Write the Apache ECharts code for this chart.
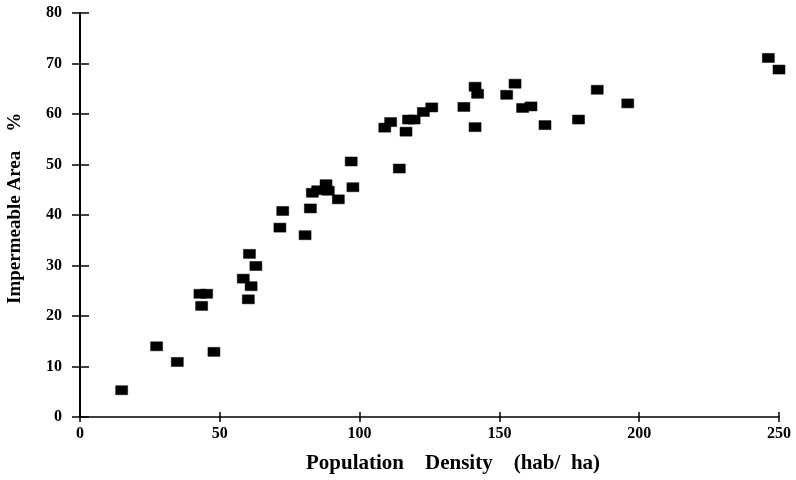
<!DOCTYPE html>
<html>
<head>
<meta charset="utf-8">
<script src="https://cdn.jsdelivr.net/npm/echarts@6/dist/echarts.min.js"></script>
<style>html,body{margin:0;padding:0;background:#fff;}#c{width:796px;height:480px;}</style>
</head>
<body>
<div id="c"></div>
<script>
// Population density (hab/ha)
const density = [14.9, 27.4, 34.8, 47.9, 43.5, 42.9, 45.3, 60.2, 58.4, 61.2, 60.6, 62.9, 71.5, 72.5, 80.5, 82.4, 83.1, 85.0, 88.0, 88.8, 92.4, 97.6, 97.0, 114.2, 109.0, 111.1, 116.6, 117.5, 119.5, 122.8, 125.8, 137.3, 141.3, 142.2, 141.3, 152.6, 155.6, 158.3, 161.3, 166.3, 178.3, 185.0, 195.9, 246.2, 250.0];
// Impermeable area (%)
const impermeable = [5.3, 14.0, 10.9, 12.9, 22.0, 24.4, 24.4, 23.3, 27.4, 25.9, 32.3, 29.9, 37.5, 40.8, 36.0, 41.3, 44.4, 44.9, 46.1, 44.8, 43.1, 45.5, 50.6, 49.2, 57.3, 58.4, 56.5, 58.9, 58.9, 60.4, 61.3, 61.4, 65.4, 64.0, 57.4, 63.8, 66.0, 61.2, 61.5, 57.8, 58.9, 64.8, 62.1, 71.1, 68.8];
const xTicks = [0, 50, 100, 150, 200, 250];
const yTicks = [0, 10, 20, 30, 40, 50, 60, 70, 80];
const xTitle = 'Population    Density    (hab/  ha)';
const yTitle = 'Impermeable Area    %';

const points = density.map((d, i) => [d, impermeable[i]]);
const serif = '"Liberation Serif", "DejaVu Serif", serif';

const chart = echarts.init(document.getElementById('c'), null, {renderer: 'canvas'});
chart.setOption({
  backgroundColor: '#ffffff',
  animation: false,
  grid: {left: 80, right: 17, top: 13, bottom: 63},
  xAxis: [{
    type: 'value', min: xTicks[0], max: xTicks[xTicks.length - 1], interval: 50,
    axisLine: {lineStyle: {color: '#000', width: 1.5}},
    axisTick: {show: true, length: 5, lineStyle: {color: '#000', width: 1.5}},
    axisLabel: {color: '#000', fontFamily: serif, fontWeight: 'bold', fontSize: 16, margin: 9},
    splitLine: {show: false}
  }, {
    type: 'value', position: 'bottom', min: xTicks[0], max: xTicks[xTicks.length - 1], interval: 50,
    axisLine: {show: false},
    axisTick: {show: true, inside: true, length: 5, lineStyle: {color: '#000', width: 1.5}},
    axisLabel: {show: false}, splitLine: {show: false}
  }],
  yAxis: [{
    type: 'value', min: yTicks[0], max: yTicks[yTicks.length - 1], interval: 10,
    axisLine: {show: true, lineStyle: {color: '#000', width: 2}},
    axisTick: {show: true, length: 8, lineStyle: {color: '#000', width: 1.5}},
    axisLabel: {color: '#000', fontFamily: serif, fontWeight: 'bold', fontSize: 16, margin: 18},
    splitLine: {show: false}
  }, {
    type: 'value', position: 'left', min: yTicks[0], max: yTicks[yTicks.length - 1], interval: 10,
    axisLine: {show: false},
    axisTick: {show: true, inside: true, length: 9, lineStyle: {color: '#000', width: 1.5}},
    axisLabel: {show: false}, splitLine: {show: false}
  }],
  graphic: [{
    type: 'text', left: 306, top: 453,
    style: {text: xTitle, fontFamily: serif, fontWeight: 'bold', fontSize: 21, fill: '#000'}
  }, {
    type: 'text', x: 6, y: 304, rotation: Math.PI / 2,
    style: {text: yTitle, fontFamily: serif, fontWeight: 'bold', fontSize: 19, fill: '#000', textVerticalAlign: 'top'}
  }],
  series: [{
    type: 'scatter', xAxisIndex: 0, yAxisIndex: 0,
    data: points,
    symbol: 'rect', symbolSize: [12, 9],
    itemStyle: {color: '#000', opacity: 1, borderColor: '#000', borderWidth: 0.5}
  }]
});
</script>
</body>
</html>
